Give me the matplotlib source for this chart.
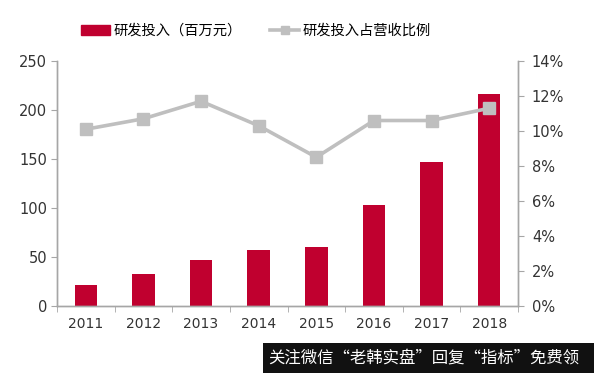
import matplotlib
matplotlib.use("Agg")
import matplotlib.pyplot as plt
from matplotlib.ticker import FuncFormatter, FixedLocator
from matplotlib.lines import Line2D
from matplotlib.patches import Patch, Rectangle

plt.rcParams['font.family'] = ['Noto Sans CJK SC', 'DejaVu Sans']

years = ['2011', '2012', '2013', '2014', '2015', '2016', '2017', '2018']
rd_spend = [21, 33, 47, 57, 60.5, 103, 147, 216]
rd_ratio = [10.1, 10.7, 11.7, 10.3, 8.5, 10.6, 10.6, 11.3]
bar_label = '研发投入（百万元）'
line_label = '研发投入占营收比例'
watermark = '关注微信“老韩实盘”回复“指标”免费领'

red = '#C0002F'
gray = '#BFBFBF'
axis_gray = '#A6A6A6'

fig = plt.figure(figsize=(5.94, 3.73), dpi=100)
ax = fig.add_axes([57/594, 1-306/373, (518-57)/594, (306-61)/373])
ax2 = ax.twinx()

x = list(range(len(years)))
ax.bar(x, rd_spend, width=0.39, color=red, zorder=2)
ax2.plot(x, rd_ratio, color=gray, lw=2.6, marker='s', ms=8,
         mfc=gray, mec=gray, zorder=3)

ax.set_xlim(-0.5, len(years)-0.5)
ax.set_ylim(0, 250)
ax2.set_ylim(0, 14)
ax.set_yticks(range(0, 251, 50))
ax2.set_yticks(range(0, 15, 2))
ax2.yaxis.set_major_formatter(FuncFormatter(lambda v, p: f'{int(v)}%'))

ax.set_xticks(x)
ax.set_xticklabels(years)
ax.xaxis.set_minor_locator(FixedLocator([i + 0.5 for i in range(-1, len(years))]))
ax.tick_params(axis='x', which='major', length=0, pad=8, labelsize=10, colors='#333333')
ax.tick_params(axis='x', which='minor', length=4, direction='out', color=axis_gray)
ax.tick_params(axis='y', length=4, direction='out', color=axis_gray, labelsize=10.5,
               labelcolor='#333333', pad=3)
ax2.tick_params(axis='y', length=4, direction='out', color=axis_gray, labelsize=10.5,
                labelcolor='#333333', pad=6)

for a in (ax, ax2):
    a.spines['top'].set_visible(False)
    for s in ('left', 'right', 'bottom'):
        a.spines[s].set_color(axis_gray)
        a.spines[s].set_linewidth(1.0)

for lab in ax.get_yticklabels() + ax2.get_yticklabels() + ax.get_xticklabels():
    lab.set_family(['DejaVu Sans'])

handles = [Patch(facecolor=red, edgecolor=red),
           Line2D([0], [0], color=gray, lw=2.6, marker='s', ms=6, mfc=gray, mec=gray)]
fig.legend(handles, [bar_label, line_label], loc='center', bbox_to_anchor=(256/594, 1-31/373),
           ncol=2, frameon=False, fontsize=10.3, handlelength=2.0, handleheight=0.75,
           columnspacing=2.0, handletextpad=0.25)

fig.patches.append(Rectangle((263/594, 0), 1 - 263/594, 30/373, transform=fig.transFigure,
                             facecolor='#111111', edgecolor='none', zorder=5))
fig.text(268/594, 1-358/373, watermark, color='white', fontsize=11.8, va='center', ha='left',
         zorder=6)

fig.savefig('out.png', dpi=100)
